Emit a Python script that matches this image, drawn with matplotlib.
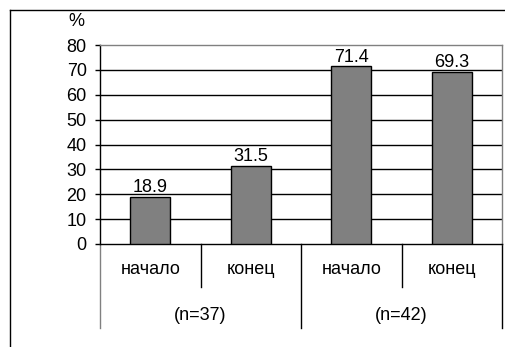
import matplotlib
matplotlib.use("Agg")
from matplotlib import pyplot as plt
from matplotlib.lines import Line2D

plt.rcParams['font.family'] = ['Liberation Sans', 'DejaVu Sans']

periods = ['начало', 'конец', 'начало', 'конец']
groups = ['(n=37)', '(n=42)']
values = [18.9, 31.5, 71.4, 69.3]
y_ticks = [0, 10, 20, 30, 40, 50, 60, 70, 80]

W, H = 505, 347
FS = 13
fig = plt.figure(figsize=(W / 100, H / 100), dpi=100)
ax = fig.add_axes([100 / W, 103 / H, 402 / W, 199 / H])

x = list(range(len(values)))
ax.bar(x, values, width=0.4, color='#808080', edgecolor='black', linewidth=1, zorder=3)
for xi, v in zip(x, values):
    ax.text(xi, v + 0.3, f'{v}', ha='center', va='bottom', fontsize=FS, zorder=4)

ax.set_xlim(-0.5, len(values) - 0.5)
ax.set_ylim(0, 80)
ax.set_yticks(y_ticks)
ax.tick_params(axis='y', labelsize=FS, length=3.6, width=1, direction='out', pad=6)
ax.set_xticks([])
for yv in y_ticks[1:-1]:
    ax.axhline(yv, color='black', linewidth=1, zorder=1)

ax.spines['left'].set_color('black')
ax.spines['bottom'].set_color('black')
ax.spines['top'].set_color('#808080')
ax.spines['right'].set_color('#808080')
for s in ax.spines.values():
    s.set_linewidth(1)

# двухуровневые подписи категорий
tr = ax.get_xaxis_transform()
short, long_ = -43 / 199, -84 / 199
for i in range(len(values) + 1):
    bx = i - 0.5
    depth = long_ if i % 2 == 0 else short
    col = '#808080' if i == 0 else 'black'
    ax.plot([bx, bx], [0, depth], color=col, linewidth=1, transform=tr, clip_on=False)
for xi, lab in zip(x, periods):
    ax.text(xi, -26 / 199, lab, ha='center', va='center', fontsize=FS, transform=tr)
for gi, lab in enumerate(groups):
    ax.text(2 * gi + 0.5, -71 / 199, lab, ha='center', va='center', fontsize=FS, transform=tr)

ax.text(76 / W, 1 - 22 / H, '%', transform=fig.transFigure, ha='center', va='center', fontsize=FS)

# рамка диаграммы (видны только левая и верхняя стороны)
fig.add_artist(Line2D([10 / W, 10 / W], [0, 1 - 10 / H], color='black', linewidth=1, transform=fig.transFigure))
fig.add_artist(Line2D([10 / W, 1], [1 - 10 / H, 1 - 10 / H], color='black', linewidth=1, transform=fig.transFigure))

fig.savefig('out.png', dpi=100)
